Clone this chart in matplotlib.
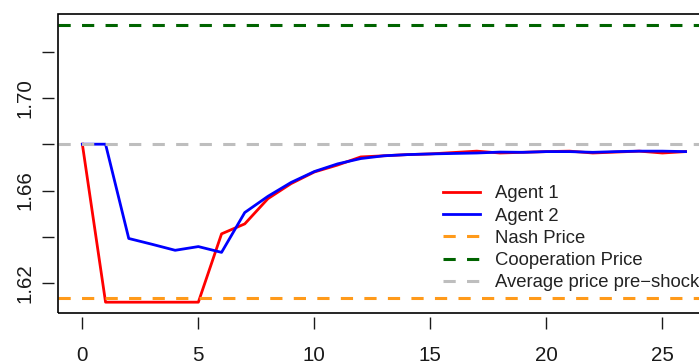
import numpy as np
import matplotlib.pyplot as plt
from matplotlib.patches import Rectangle

plt.rcParams['font.family'] = ['Liberation Sans', 'DejaVu Sans']

# price path of the two agents after the shock
periods = np.arange(0, 27)
agent1 = [1.680, 1.6118, 1.6118, 1.6118, 1.6118, 1.6118, 1.6413, 1.6456, 1.6565, 1.6630,
          1.6680, 1.6710, 1.6745, 1.6750, 1.6755, 1.6758, 1.6764, 1.6770, 1.6762, 1.6765,
          1.6768, 1.6770, 1.6762, 1.6766, 1.6770, 1.6762, 1.6768]
agent2 = [1.680, 1.680, 1.6393, 1.6368, 1.6342, 1.6358, 1.6333, 1.6505, 1.6575, 1.6635,
          1.6682, 1.6715, 1.6738, 1.6750, 1.6755, 1.6758, 1.6760, 1.6762, 1.6766, 1.6765,
          1.6768, 1.6768, 1.6765, 1.6768, 1.6770, 1.6770, 1.6768]

nash_price = 1.6135
coop_price = 1.7314
avg_pre_shock = 1.680

fig = plt.figure(figsize=(6.99, 3.64), dpi=100)
ax = fig.add_axes([0.0833, 0.1393, 0.932, 0.8222])

ax.plot(periods, agent1, color='red', lw=2.0, label='Agent 1')
ax.plot(periods, agent2, color='blue', lw=2.0, label='Agent 2')
ax.axhline(nash_price, color='#FF9A1A', lw=2.2, dashes=(4, 3.7), label='Nash Price')
ax.axhline(coop_price, color='#006400', lw=2.2, dashes=(4, 3.7), label='Cooperation Price')
ax.axhline(avg_pre_shock, color='#BEBEBE', lw=2.2, dashes=(4, 3.7),
           label='Average price pre\u2212shock')

ax.set_xlim(-1.04, 27.04)
ax.set_ylim(1.6070, 1.7362)

ax.set_xticks([0, 5, 10, 15, 20, 25])
ax.set_yticks([1.62, 1.64, 1.66, 1.68, 1.70, 1.72])
ax.set_yticklabels(['1.62', '', '1.66', '', '1.70', ''])

# R-style axes: ticks sit a little away from the box
for side in ['left', 'bottom']:
    ax.spines[side].set_position(('outward', 3))
for s in ax.spines.values():
    s.set_color('none')
ax.add_patch(Rectangle((0, 0), 1, 1, transform=ax.transAxes, fill=False,
                       lw=1.2, edgecolor='black', clip_on=False, zorder=5))

ax.tick_params(axis='x', length=8.6, width=1.0, pad=12, labelsize=14.8, colors='#1a1a1a')
ax.tick_params(axis='y', length=8.6, width=1.0, pad=5.8, labelsize=14.8, colors='#1a1a1a',
               labelrotation=90)
for lbl in ax.get_yticklabels():
    lbl.set_va('center')

ax.legend(loc='upper left', bbox_to_anchor=(443 / 699, (364 - 185.5) / 364),
          bbox_transform=fig.transFigure, frameon=False, fontsize=13.3,
          handlelength=2.0, handletextpad=0.8, labelspacing=0.28,
          borderpad=0, borderaxespad=0, labelcolor='#222222')

fig.savefig('out.png', dpi=100)
